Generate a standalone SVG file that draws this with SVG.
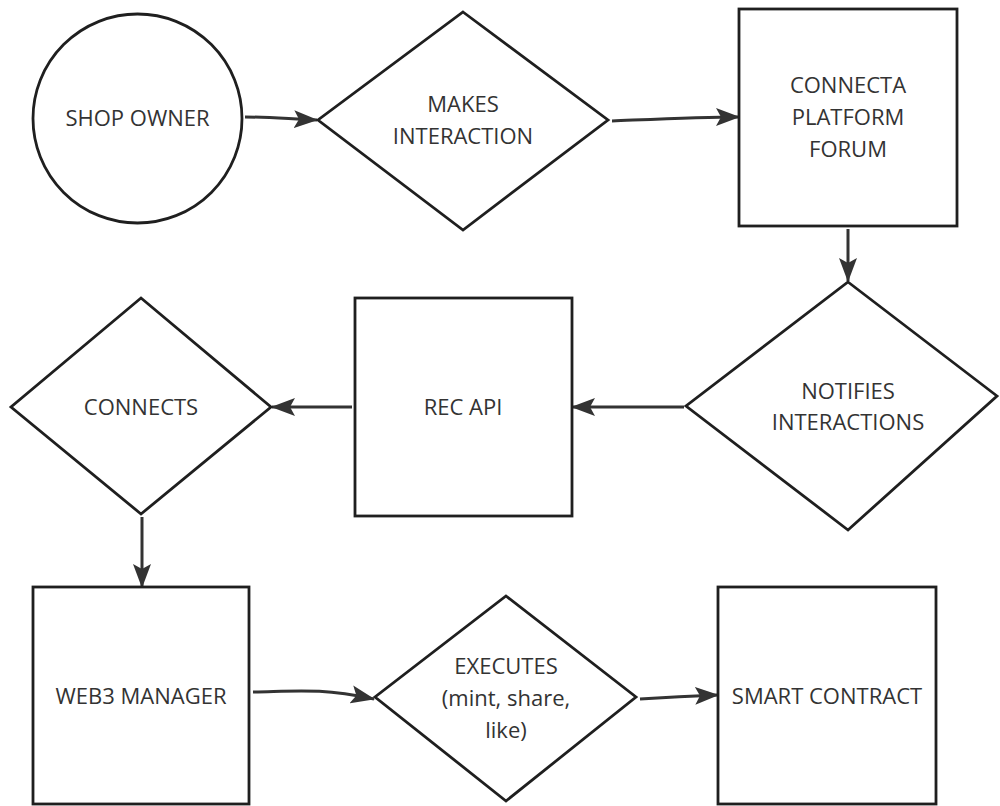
<svg xmlns="http://www.w3.org/2000/svg" width="1000" height="806" viewBox="0 0 1000 806">
  <style>
    .shape { fill: #ffffff; stroke: #1f1f1f; stroke-width: 2.8; }
    .label { font-family: "Open Sans", "Noto Sans", "Liberation Sans", sans-serif; font-size: 22px; fill: #333333; text-anchor: middle; }
    .edge { fill: none; stroke: #333333; stroke-width: 3; marker-end: url(#arrow); }
  </style>
  <defs>
    <marker id="arrow" markerUnits="userSpaceOnUse" markerWidth="24" markerHeight="20" viewBox="0 0 24 20" refX="23" refY="10" orient="auto">
      <path d="M0,1 L24,10 L0,19 L5,10 z" fill="#333333"/>
    </marker>
  </defs>
  <rect width="1000" height="806" fill="#ffffff"/>

  <g id="connectors">
    <path class="edge" d="M245,117 C270,117 290,119 317,120"/>
    <path class="edge" d="M612,121 C660,119 700,117 739,117"/>
    <path class="edge" d="M848,229 L848,281"/>
    <path class="edge" d="M684,407 L572,407"/>
    <path class="edge" d="M352,407 L272,407"/>
    <path class="edge" d="M142,517 L142,587"/>
    <path class="edge" d="M253,692 C300,691 320,688 374,699"/>
    <path class="edge" d="M640,699 C670,697 690,696 718,695"/>
  </g>

  <g id="shop-owner">
    <circle class="shape" cx="137.5" cy="118.5" r="104.5"/>
    <text class="label" x="137.5" y="126">SHOP OWNER</text>
  </g>

  <g id="makes-interaction">
    <polygon class="shape" points="463,12 608,120 463,230 318,120"/>
    <text class="label" x="463" y="112">MAKES</text>
    <text class="label" x="463" y="144">INTERACTION</text>
  </g>

  <g id="connecta-platform-forum">
    <rect class="shape" x="739" y="9" width="218" height="217"/>
    <text class="label" x="848" y="93">CONNECTA</text>
    <text class="label" x="848" y="125">PLATFORM</text>
    <text class="label" x="848" y="157">FORUM</text>
  </g>

  <g id="notifies-interactions">
    <polygon class="shape" points="848,282 997,396 848,530 686,406"/>
    <text class="label" x="848" y="399">NOTIFIES</text>
    <text class="label" x="848" y="430">INTERACTIONS</text>
  </g>

  <g id="rec-api">
    <rect class="shape" x="355" y="298" width="217" height="218"/>
    <text class="label" x="463" y="415">REC API</text>
  </g>

  <g id="connects">
    <polygon class="shape" points="141,298 271,407 141,514 11,407"/>
    <text class="label" x="141" y="415">CONNECTS</text>
  </g>

  <g id="web3-manager">
    <rect class="shape" x="33" y="587" width="216" height="217"/>
    <text class="label" x="141" y="704">WEB3 MANAGER</text>
  </g>

  <g id="executes">
    <polygon class="shape" points="506,596 636,697 506,801 375,697"/>
    <text class="label" x="506" y="674">EXECUTES</text>
    <text class="label" x="506" y="706">(mint, share,</text>
    <text class="label" x="506" y="738">like)</text>
  </g>

  <g id="smart-contract">
    <rect class="shape" x="718" y="587" width="218" height="217"/>
    <text class="label" x="827" y="704">SMART CONTRACT</text>
  </g>
</svg>
